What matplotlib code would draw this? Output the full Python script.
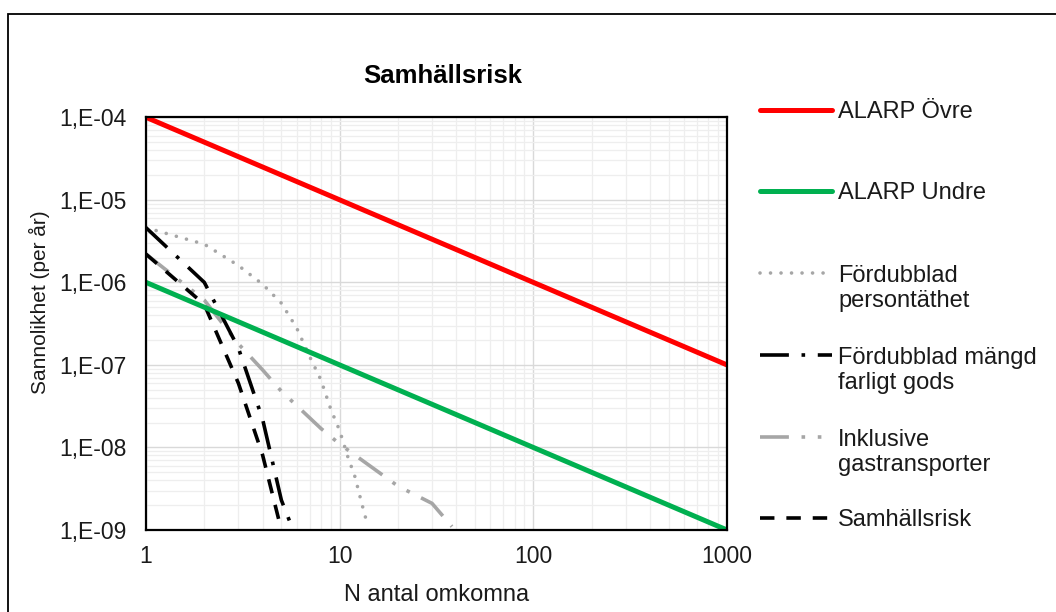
import matplotlib
matplotlib.use("Agg")
import matplotlib.pyplot as plt
from matplotlib.lines import Line2D
from matplotlib.patches import Rectangle
from matplotlib.ticker import FixedLocator, LogLocator, NullFormatter

plt.rcParams['font.family'] = ['Liberation Sans', 'DejaVu Sans']

# ---- data ----
alarp_N = [1, 1000]
alarp_upper = [1e-4, 1e-7]
alarp_lower = [1e-6, 1e-9]

persontathet_N = [1, 2, 3, 4, 5, 6, 7, 8, 9, 10, 11, 12, 13, 14]
persontathet_P = [4.6e-6, 2.9e-6, 1.6e-6, 9.5e-7, 5.6e-7, 2.8e-7, 1.26e-7,
                  6.6e-8, 2.9e-8, 1.6e-8, 7.8e-9, 4.4e-9, 2.1e-9, 1.1e-9]

mangd_N = [1, 2, 3, 4, 5, 5.5]
mangd_P = [4.6e-6, 1.0e-6, 1.6e-7, 2.2e-8, 2.3e-9, 1.3e-9]

gas_N = [1, 2, 3, 4, 5, 8, 10, 20, 30, 38]
gas_P = [2.2e-6, 6.1e-7, 1.8e-7, 8.7e-8, 4.8e-8, 1.7e-8, 1.1e-8, 3.4e-9, 2.1e-9, 1.1e-9]

samhall_N = [1, 2, 3, 4, 5]
samhall_P = [2.2e-6, 5.4e-7, 6.0e-8, 8.1e-9, 1.0e-9]

y_ticks = [1e-9, 1e-8, 1e-7, 1e-6, 1e-5, 1e-4]
y_labels = ["1,E-09", "1,E-08", "1,E-07", "1,E-06", "1,E-05", "1,E-04"]
x_ticks = [1, 10, 100, 1000]
x_labels = ["1", "10", "100", "1000"]

labels = ["ALARP Övre", "ALARP Undre", "Fördubblad\npersontäthet",
          "Fördubblad mängd\nfarligt gods", "Inklusive\ngastransporter", "Samhällsrisk"]

# ---- styles ----
RED = "#FF0000"
GREEN = "#00B050"
GRAY = "#A6A6A6"
styles = [
    dict(color=RED, lw=3.6, ls='-', solid_capstyle='round'),
    dict(color=GREEN, lw=3.6, ls='-', solid_capstyle='round'),
    dict(color=GRAY, lw=2.6, ls=(0, (0.01, 2.9)), dash_capstyle='round'),
    dict(color='black', lw=2.6, ls=(0, (8, 3.5, 1, 3.5))),
    dict(color=GRAY, lw=2.6, ls=(0, (8, 3.5, 1, 3.5, 1, 3.5))),
    dict(color='black', lw=2.6, ls=(0, (4, 3.3))),
]

W, H = 1056, 612
fig = plt.figure(figsize=(W / 100, H / 100), dpi=100)

# outer chart border
fig.patches.append(Rectangle((8 / W, -0.5), 2, 1.5 - 13.5 / H,
                             transform=fig.transFigure, fill=False,
                             edgecolor='black', lw=1.3))

ax = fig.add_axes([146 / W, 1 - 530 / H, 581 / W, 412.7 / H])
ax.set_xscale('log')
ax.set_yscale('log')
ax.set_xlim(1, 1000)
ax.set_ylim(1e-9, 1e-4)

series = [
    (alarp_N, alarp_upper),
    (alarp_N, alarp_lower),
    (persontathet_N, persontathet_P),
    (mangd_N, mangd_P),
    (gas_N, gas_P),
    (samhall_N, samhall_P),
]
order = [2, 4, 3, 5, 1, 0]
for i in order:
    xs, ys = series[i]
    ax.plot(xs, ys, zorder=3 + (1 if i < 2 else 0), **styles[i])

ax.xaxis.set_major_locator(FixedLocator(x_ticks))
ax.set_xticklabels(x_labels)
ax.yaxis.set_major_locator(FixedLocator(y_ticks))
ax.set_yticklabels(y_labels)
ax.xaxis.set_minor_locator(LogLocator(base=10, subs=range(2, 10)))
ax.yaxis.set_minor_locator(LogLocator(base=10, subs=range(2, 10)))
ax.xaxis.set_minor_formatter(NullFormatter())
ax.yaxis.set_minor_formatter(NullFormatter())
ax.tick_params(which='both', length=0)
ax.tick_params(axis='x', labelsize=16.5, pad=11)
ax.tick_params(axis='y', labelsize=16.5, pad=14)
for lab in ax.get_xticklabels() + ax.get_yticklabels():
    lab.set_color('#1a1a1a')

ax.grid(which='major', color='#D9D9D9', lw=1.0)
ax.grid(which='minor', color='#EEEEEE', lw=0.9)
ax.set_axisbelow(True)
for s in ax.spines.values():
    s.set_color('black')
    s.set_linewidth(1.6)
    s.set_zorder(6)

ax.set_xlabel("N antal omkomna", fontsize=17, color='#1a1a1a', labelpad=11)
ax.set_ylabel("Sannolikhet (per år)", fontsize=15, color='#1a1a1a')
ax.yaxis.set_label_coords(-0.165, 0.553)
fig.text(443 / W, 1 - 76 / H, "Samhällsrisk", fontsize=18.5, fontweight='bold',
         ha='center', va='center')

# ---- manual legend ----
first_line_y = [110, 191, 273, 355, 437, 518]
text_shift = 2
line_gap = 27
for i, lab in enumerate(labels):
    y = first_line_y[i]
    nlines = lab.count("\n") + 1
    ty = y + text_shift + (nlines - 1) * line_gap / 2
    st = dict(styles[i])
    handle = Line2D([760 / W, 832 / W], [1 - y / H, 1 - y / H],
                    transform=fig.transFigure, **st)
    fig.lines.append(handle)
    fig.text(838 / W, 1 - ty / H, lab, fontsize=17, ha='left', va='center',
             linespacing=1.12, color='#1a1a1a')

fig.savefig("out.png", dpi=100)
